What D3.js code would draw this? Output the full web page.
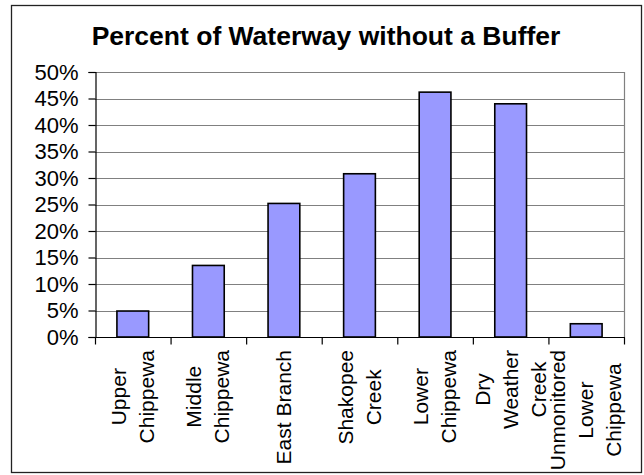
<!DOCTYPE html>
<html>
<head>
<meta charset="utf-8">
<script src="https://cdn.jsdelivr.net/npm/d3@7"></script>
<style>
  html, body { margin: 0; padding: 0; background: #fff; }
  svg { display: block; font-family: "Liberation Sans", Arial, sans-serif; }
</style>
</head>
<body>
<svg id="chart" width="644" height="475"></svg>
<script>
// Share of each waterway segment that has no vegetated buffer
const categories = [
  "Upper Chippewa",
  "Middle Chippewa",
  "East Branch",
  "Shakopee Creek",
  "Lower Chippewa",
  "Dry Weather Creek",
  "Unmonitored Lower Chippewa"
];
// Axis label lines as they wrap under each bar
const labelLines = [
  ["Upper", "Chippewa"],
  ["Middle", "Chippewa"],
  ["East Branch"],
  ["Shakopee", "Creek"],
  ["Lower", "Chippewa"],
  ["Dry", "Weather", "Creek"],
  ["Unmonitored", "Lower", "Chippewa"]
];
const values = [0.049, 0.135, 0.252, 0.308, 0.462, 0.440, 0.025];
const yTicks = [0, 0.05, 0.10, 0.15, 0.20, 0.25, 0.30, 0.35, 0.40, 0.45, 0.50];
const title = "Percent of Waterway without a Buffer";

const svg = d3.select("#chart");
const plot = { left: 95, right: 624, top: 72, bottom: 337 };

// Chart frame
svg.append("rect")
  .attr("x", 11.5).attr("y", 5.5)
  .attr("width", 630).attr("height", 467)
  .attr("fill", "#fff").attr("stroke", "#222").attr("stroke-width", 1.3);

svg.append("text")
  .attr("x", 326).attr("y", 45)
  .attr("text-anchor", "middle")
  .attr("font-size", 26.5).attr("font-weight", "bold")
  .attr("fill", "#000")
  .text(title);

const x = d3.scaleBand().domain(categories).range([plot.left, plot.right]).padding(0);
const y = d3.scaleLinear().domain([0, 0.5]).range([plot.bottom, plot.top]);

// Gridlines
svg.append("g")
  .selectAll("line").data(yTicks.slice(1)).join("line")
  .attr("x1", plot.left).attr("x2", plot.right)
  .attr("y1", d => Math.round(y(d)) + 0.5).attr("y2", d => Math.round(y(d)) + 0.5)
  .attr("stroke", "#808080").attr("stroke-width", 1.2);

// Right edge of plot area
svg.append("line")
  .attr("x1", plot.right + 0.5).attr("x2", plot.right + 0.5)
  .attr("y1", plot.top).attr("y2", plot.bottom)
  .attr("stroke", "#808080").attr("stroke-width", 1.2);

// Bars
const barW = x.bandwidth() * 0.42;
svg.append("g")
  .selectAll("rect").data(values).join("rect")
  .attr("x", (d, i) => x(categories[i]) + (x.bandwidth() - barW) / 2)
  .attr("y", d => y(d))
  .attr("width", barW)
  .attr("height", d => y(0) - y(d))
  .attr("fill", "#9999ff")
  .attr("stroke", "#000").attr("stroke-width", 1.6);

// Y axis
const yAxis = svg.append("g")
  .attr("transform", `translate(${plot.left + 0.5},0)`)
  .call(d3.axisLeft(y).tickValues(yTicks).tickFormat(d3.format(".0%")).tickSize(7).tickPadding(10));
yAxis.select(".domain").attr("stroke", "#000").attr("stroke-width", 1.2);
yAxis.selectAll(".tick line").attr("stroke", "#000").attr("stroke-width", 1.2);
yAxis.selectAll(".tick text")
  .attr("font-size", 22).attr("font-family", "Liberation Sans, Arial, sans-serif")
  .attr("fill", "#000");

// X axis with tick marks between categories
const xAxis = svg.append("g")
  .attr("transform", `translate(0,${plot.bottom + 0.5})`);
xAxis.append("line")
  .attr("x1", plot.left).attr("x2", plot.right + 1)
  .attr("stroke", "#000").attr("stroke-width", 1.2);
const boundaries = categories.map(c => x(c)).concat([plot.right]);
xAxis.selectAll("line.tick").data(boundaries).join("line")
  .attr("class", "tick")
  .attr("x1", d => d + 0.5).attr("x2", d => d + 0.5)
  .attr("y1", 0).attr("y2", 7)
  .attr("stroke", "#000").attr("stroke-width", 1.2);

// Rotated category labels, wrapped lines centred on each other
const linePitch = 28;
const labelTop = 350;
const labelG = svg.append("g");
labelLines.forEach((lines, i) => {
  const cx = x(categories[i]) + x.bandwidth() / 2;
  const g = labelG.append("g");
  const texts = lines.map((ln, j) => g.append("text")
    .attr("font-size", 21).attr("fill", "#000")
    .attr("text-anchor", "middle")
    .text(ln));
  const maxW = d3.max(texts, t => t.node().getComputedTextLength());
  const cy = labelTop + maxW / 2;
  texts.forEach((t, j) => {
    const off = (j - (lines.length - 1) / 2) * linePitch;
    t.attr("transform", `translate(${cx + off + 7},${cy}) rotate(-90)`);
  });
});
</script>
</body>
</html>
